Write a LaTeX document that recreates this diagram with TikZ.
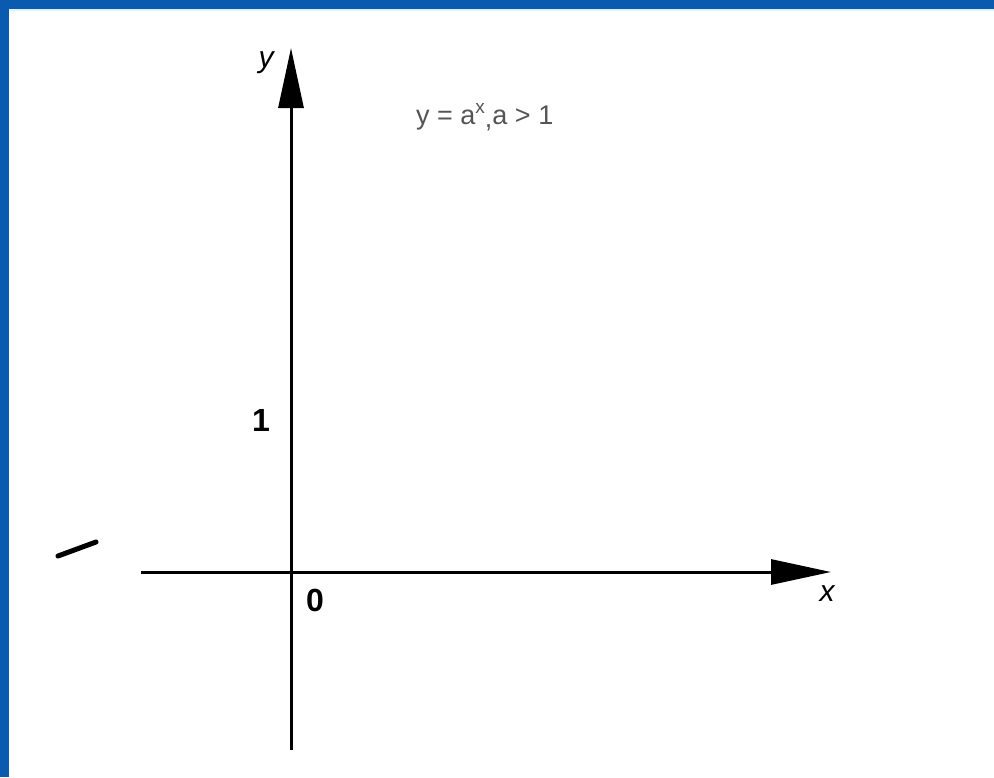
\documentclass[tikz,border=0pt]{standalone}
\usepackage{fontspec}
\setmainfont{Liberation Sans}
\usetikzlibrary{arrows.meta}
\definecolor{frameblue}{HTML}{0A5BB0}
\definecolor{textgray}{HTML}{555555}
\begin{document}
\begin{tikzpicture}[x=1pt,y=-1pt,
  axis/.style={line width=3pt,black,-{Triangle[length=60pt,width=25pt]}},
  lbl/.style={inner sep=0pt,font=\fontsize{30}{30}\selectfont\itshape},
  num/.style={inner sep=0pt,font=\fontsize{32}{32}\selectfont\bfseries}]
\useasboundingbox (0,0) rectangle (994,777);
\fill[white] (0,0) rectangle (994,777);
\fill[frameblue] (0,0) rectangle (994,9);
\fill[frameblue] (0,0) rectangle (9,777);
\draw[cyan!15,line width=1.5pt] (9,10) -- (994,10);
% axes
\coordinate (ybot) at (291,750);
\coordinate (ytop) at (291,48);
\coordinate (xl) at (141,572);
\coordinate (xr) at (831,572);
\draw[axis] (ybot) -- (ytop);
\draw[axis] (xl) -- (xr);
% labels
\node[lbl] (ylab) at (266,63) {y};
\node[lbl] (xlab) at (827,594) {x};
\node[num] (zero) at (315,600) {0};
\node[num] (one) at (261,420) {1};
\node[inner sep=0pt,anchor=west,text=textgray,font=\fontsize{27}{27}\selectfont] (formula) at (416,117) {y = a\raisebox{11pt}{\fontsize{19}{19}\selectfont x}\raisebox{-3pt}{,}a > 1};
% stray mark
\coordinate (s1) at (58,556);
\coordinate (s2) at (96,542);
\draw[line width=5pt,line cap=round] (s1) -- (s2);
\end{tikzpicture}
\end{document}
